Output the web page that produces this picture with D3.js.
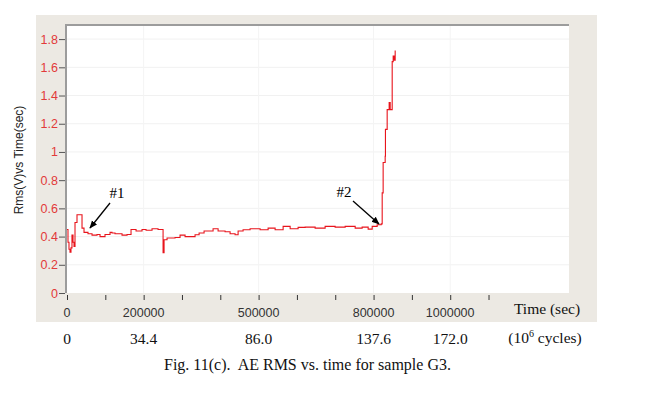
<!DOCTYPE html>
<html>
<head>
<meta charset="utf-8">
<script src="https://cdn.jsdelivr.net/npm/d3@7"></script>
<style>
  html, body { margin: 0; padding: 0; background: #ffffff; }
  svg { display: block; }
</style>
</head>
<body>
<div id="chart"></div>
<script>
// time (sec) and rms (V), step-wise
const timeSec = [
  0, 2600, 5200, 7800, 10400, 13000, 15700, 18300, 20900, 26100,
  39200, 44400, 54800, 65300, 78300, 86200, 99200, 112300, 117500, 125300,
  143600, 156700, 167100, 180200, 195800, 206300, 221900, 237600, 250700, 253300,
  261100, 282000, 295000, 308100, 334200, 344700, 357700, 381200, 394300, 412500,
  425600, 438600, 446500, 459500, 477800, 503900, 524800, 543100, 564000, 582300,
  603100, 621400, 647500, 673600, 699700, 725900, 752000, 770200, 785900, 796400,
  809400, 819900, 822500, 825000, 830300, 831000, 835500, 840700, 843400, 848600,
  851200, 853800, 856400
];
const rmsVolt = [
  0.45, 0.36, 0.31, 0.29, 0.32, 0.41, 0.36, 0.33, 0.50, 0.555,
  0.46, 0.43, 0.42, 0.41, 0.415, 0.40, 0.415, 0.43, 0.425, 0.42,
  0.41, 0.415, 0.45, 0.44, 0.45, 0.445, 0.455, 0.45, 0.285, 0.377,
  0.39, 0.393, 0.41, 0.40, 0.413, 0.425, 0.44, 0.455, 0.44, 0.434,
  0.42, 0.413, 0.44, 0.448, 0.455, 0.448, 0.46, 0.448, 0.472, 0.455,
  0.465, 0.467, 0.46, 0.472, 0.467, 0.472, 0.46, 0.467, 0.453, 0.472,
  0.484, 0.49, 0.71, 0.925, 0.97, 1.16, 1.30, 1.35, 1.30, 1.64,
  1.68, 1.65, 1.72
];

const yTicks = [0, 0.2, 0.4, 0.6, 0.8, 1, 1.2, 1.4, 1.6, 1.8];
const xTicks = [0, 100000, 200000, 300000, 400000, 500000, 600000, 700000, 800000, 900000, 1000000, 1100000];
const xLabelled = [0, 200000, 500000, 800000, 1000000];
const cycleLabels = ['0', '34.4', '86.0', '137.6', '172.0'];

const annotations = [
  { label: '#1', tx: 117, ty: 198, from: [110, 203], to: [90, 228] },
  { label: '#2', tx: 344, ty: 197, from: [353, 201], to: [379, 224] }
];

const W = 647;
const H = 401;
const plot = { left: 66, right: 569, top: 25, bottom: 293 };
const SANS = 'Arial, "Liberation Sans", sans-serif';
const SERIF = '"Times New Roman", "Liberation Serif", serif';

function drawChart () {
  const svg = d3.select('#chart')
    .append('svg')
    .attr('width', W)
    .attr('height', H)
    .attr('viewBox', `0 0 ${W} ${H}`);

  const defs = svg.append('defs');
  defs.append('marker')
    .attr('id', 'arrow')
    .attr('viewBox', '0 0 10 10')
    .attr('refX', 9)
    .attr('refY', 5)
    .attr('markerWidth', 8)
    .attr('markerHeight', 8)
    .attr('markerUnits', 'userSpaceOnUse')
    .attr('orient', 'auto')
    .append('path')
    .attr('d', 'M0,1 L10,5 L0,9 Z')
    .attr('fill', '#000');

  // gray panel
  svg.append('rect')
    .attr('x', 36).attr('y', 15)
    .attr('width', 561).attr('height', 307)
    .attr('fill', '#ece9e3');

  svg.append('rect')
    .attr('x', plot.left).attr('y', plot.top)
    .attr('width', plot.right - plot.left).attr('height', plot.bottom - plot.top)
    .attr('fill', '#ffffff');

  const x = d3.scaleLinear().domain([0, 1310000]).range([plot.left + 1, plot.right]);
  const y = d3.scaleLinear().domain([0, 1.9]).range([plot.bottom, plot.top]);

  // faint grid
  svg.append('g')
    .selectAll('line')
    .data(yTicks.filter((d) => d > 0))
    .enter()
    .append('line')
    .attr('x1', plot.left).attr('x2', plot.right)
    .attr('y1', (d) => y(d)).attr('y2', (d) => y(d))
    .attr('stroke', '#f1f1f1');

  svg.append('g')
    .selectAll('line')
    .data(xLabelled.filter((d) => d > 0))
    .enter()
    .append('line')
    .attr('x1', (d) => x(d)).attr('x2', (d) => x(d))
    .attr('y1', plot.top).attr('y2', plot.bottom)
    .attr('stroke', '#f4f4f4');

  // frame (left + top)
  svg.append('path')
    .attr('d', `M${plot.left},${plot.bottom} V${plot.top} H${plot.right}`)
    .attr('fill', 'none')
    .attr('stroke', '#9c9c9c')
    .attr('stroke-width', 2);

  // y axis
  const yAxis = svg.append('g')
    .attr('transform', `translate(${plot.left - 1},0)`)
    .call(d3.axisLeft(y).tickValues(yTicks).tickSize(6).tickPadding(1)
      .tickFormat((d) => d3.format('~g')(d)));
  yAxis.select('.domain').remove();
  yAxis.selectAll('.tick line').attr('stroke', '#555');
  yAxis.selectAll('.tick text')
    .attr('fill', '#e23a3a')
    .style('font-family', SANS)
    .style('font-size', '12.5px');

  // x axis
  const xAxis = svg.append('g')
    .attr('transform', `translate(0,${plot.bottom + 2})`)
    .call(d3.axisBottom(x).tickValues(xTicks).tickSize(5).tickFormat(() => ''));
  xAxis.select('.domain').remove();
  xAxis.selectAll('.tick line').attr('stroke', '#333');

  svg.append('g')
    .selectAll('text')
    .data(xLabelled)
    .enter()
    .append('text')
    .attr('x', (d) => x(d))
    .attr('y', 317)
    .attr('text-anchor', 'middle')
    .attr('fill', '#333')
    .style('font-family', SANS)
    .style('font-size', '12.5px')
    .text((d) => d);

  svg.append('g')
    .selectAll('text')
    .data(xLabelled)
    .enter()
    .append('text')
    .attr('x', (d) => x(d))
    .attr('y', 344)
    .attr('text-anchor', 'middle')
    .attr('fill', '#111')
    .style('font-family', SERIF)
    .style('font-size', '15.5px')
    .text((d, i) => cycleLabels[i]);

  svg.append('text')
    .attr('x', 547).attr('y', 314)
    .attr('text-anchor', 'middle')
    .attr('fill', '#111')
    .style('font-family', SERIF)
    .style('font-size', '15.5px')
    .text('Time (sec)');

  const cyc = svg.append('text')
    .attr('x', 545).attr('y', 343)
    .attr('text-anchor', 'middle')
    .attr('fill', '#111')
    .style('font-family', SERIF)
    .style('font-size', '15.5px');
  cyc.append('tspan').text('(10');
  cyc.append('tspan').attr('dy', -6).style('font-size', '10px').text('6');
  cyc.append('tspan').attr('dy', 6).text(' cycles)');

  // y title
  svg.append('text')
    .attr('transform', 'translate(23,160) rotate(-90)')
    .attr('text-anchor', 'middle')
    .attr('fill', '#222')
    .style('font-family', SANS)
    .style('font-size', '12px')
    .text('Rms(V)vs Time(sec)');

  // series
  const data = timeSec.map((t, i) => ({ t, v: rmsVolt[i] }));
  const line = d3.line()
    .x((d) => x(d.t))
    .y((d) => y(d.v))
    .curve(d3.curveStepAfter);

  svg.append('path')
    .datum(data)
    .attr('d', line)
    .attr('fill', 'none')
    .attr('stroke', '#e8141c')
    .attr('stroke-width', 1.1);

  // annotations
  const notes = svg.append('g');
  notes.selectAll('text')
    .data(annotations)
    .enter()
    .append('text')
    .attr('x', (d) => d.tx)
    .attr('y', (d) => d.ty)
    .attr('text-anchor', 'middle')
    .style('font-family', SERIF)
    .style('font-size', '15px')
    .text((d) => d.label);

  notes.selectAll('line')
    .data(annotations)
    .enter()
    .append('line')
    .attr('x1', (d) => d.from[0]).attr('y1', (d) => d.from[1])
    .attr('x2', (d) => d.to[0]).attr('y2', (d) => d.to[1])
    .attr('stroke', '#000')
    .attr('stroke-width', 1.3)
    .attr('marker-end', 'url(#arrow)');

  // caption
  svg.append('text')
    .attr('x', 164).attr('y', 370)
    .attr('fill', '#111')
    .style('font-family', SERIF)
    .style('font-size', '16px')
    .style('white-space', 'pre')
    .text('Fig. 11(c).  AE RMS vs. time for sample G3.');
}

drawChart();
</script>
</body>
</html>
